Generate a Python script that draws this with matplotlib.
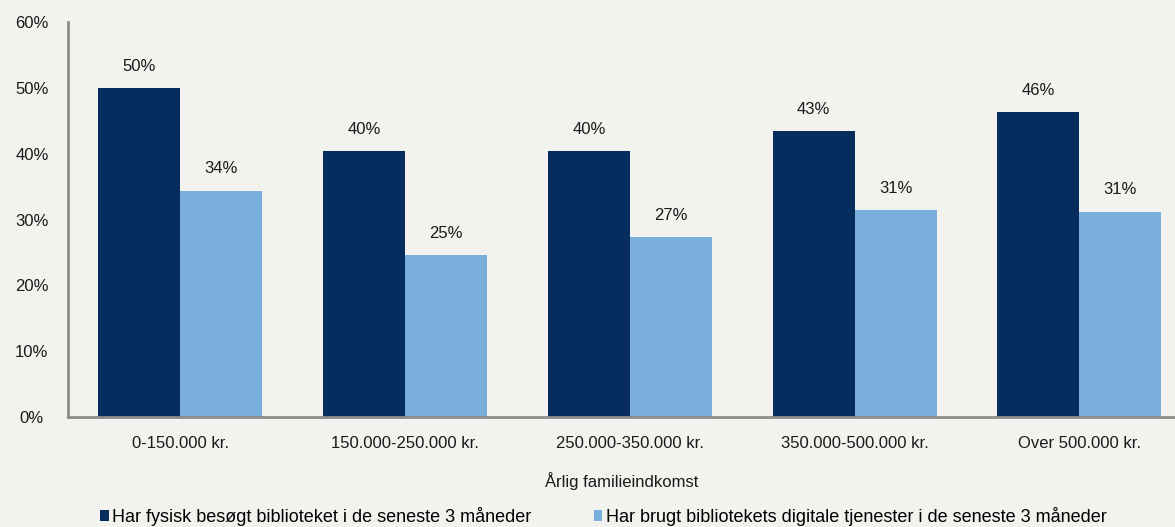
import matplotlib.pyplot as plt
import numpy as np

categories = ['0-150.000 kr.', '150.000-250.000 kr.', '250.000-350.000 kr.',
              '350.000-500.000 kr.', 'Over 500.000 kr.']
fysisk = [49.9, 40.4, 40.4, 43.4, 46.3]
digital = [34.4, 24.6, 27.3, 31.4, 31.2]
series_names = ['Har fysisk besøgt biblioteket i de seneste 3 måneder',
                'Har brugt bibliotekets digitale tjenester i de seneste 3 måneder']
yticks = [0, 10, 20, 30, 40, 50, 60]

plt.rcParams['font.family'] = ['Liberation Sans', 'DejaVu Sans']
plt.rcParams['font.size'] = 12

BG = '#f2f2ef'
DARK = '#062d5e'
LIGHT = '#7aafdc'
GREY = '#8c8c8c'
TXT = '#1a1a1a'

W, H = 1175, 527
fig = plt.figure(figsize=(W / 100, H / 100), dpi=100, facecolor=BG)
ax = fig.add_axes([68 / W, 1 - 417 / H, (W - 68) / W, (417 - 22) / H])
ax.set_facecolor(BG)

x = np.arange(len(categories))
bw = 0.365
b1 = ax.bar(x - bw / 2, fysisk, bw, color=DARK, label=series_names[0])
b2 = ax.bar(x + bw / 2, digital, bw, color=LIGHT, label=series_names[1])
for bars, vals in ((b1, fysisk), (b2, digital)):
    for r, v in zip(bars, vals):
        ax.text(r.get_x() + r.get_width() / 2, v + 2.2, f'{v:.0f}%',
                ha='center', va='bottom', color=TXT)

ax.set_xlim(-0.5, (W - 68) / 224.75 - 0.5)
ax.set_ylim(0, 60)
ax.set_yticks(yticks)
ax.set_yticklabels([f'{t}%' for t in yticks], ha='center')
ax.set_xticks(x)
ax.set_xticklabels(categories)
ax.tick_params(length=0, colors=TXT)
ax.tick_params(axis='x', pad=14)
ax.tick_params(axis='y', pad=26)
ax.set_xlabel('Årlig familieindkomst', labelpad=15, color=TXT)

for s in ('top', 'right'):
    ax.spines[s].set_visible(False)
for s in ('left', 'bottom'):
    ax.spines[s].set_color(GREY)
    ax.spines[s].set_linewidth(2)

fig.legend(handles=[b1, b2], loc='lower left', bbox_to_anchor=(93 / W, -6 / H),
           ncol=2, frameon=False, handlelength=0.46, handleheight=0.5,
           handletextpad=0.22, columnspacing=3.45, borderaxespad=0,
           prop={'size': 13})

fig.savefig('out.png', dpi=100, facecolor=BG)
